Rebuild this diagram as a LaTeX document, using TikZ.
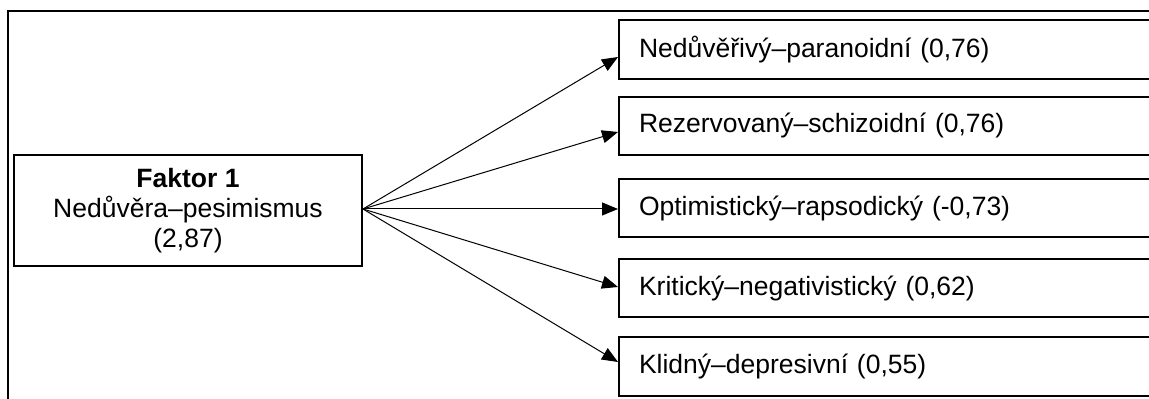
\documentclass[tikz,border=0pt]{standalone}
\usepackage{fontspec}
\setmainfont{Liberation Sans}
\usetikzlibrary{arrows.meta,positioning}
\tikzset{factorbox/.style={draw,line width=1pt,minimum width=174pt,minimum height=55.5pt,align=center,inner sep=0pt},
    itembox/.style={draw,line width=1pt,anchor=west,text width=280pt,inner xsep=10pt,minimum height=29.25pt,align=left},
    loadarrow/.style={line width=0.5pt,-{Triangle[length=8pt,width=6.5pt]}}}

\begin{document}
\begin{tikzpicture}[x=0.5pt,y=-0.5pt,font=\fontsize{13.25pt}{15pt}\selectfont]
                \clip (0,0) rectangle (1149,399);
                % outer frame
                \draw[line width=1pt] (8,420) -- (8,11) -- (1180,11);
                \node[factorbox] (faktor) at (188,210.5) {\textbf{Faktor 1}\\Nedůvěra–pesimismus\\(2,87)};
                \node[itembox] (f1) at (618,49.5) {Nedůvěřivý–paranoidní (0,76)};
                \node[itembox] (f2) at (618,126) {Rezervovaný–schizoidní (0,76)};
                \node[itembox] (f3) at (618,208) {Optimistický–rapsodický (-0,73)};
                \node[itembox] (f4) at (618,288) {Kritický–negativistický (0,62)};
                \node[itembox] (f5) at (618,366.5) {Klidný–depresivní (0,55)};
                \draw[loadarrow] ([yshift=0.75pt]faktor.east) -- ([yshift=-3.75pt]f1.west);
                \draw[loadarrow] ([yshift=0.75pt]faktor.east) -- ([yshift=-3pt]f2.west);
                \draw[loadarrow] ([yshift=0.75pt]faktor.east) -- ([yshift=-0.5pt]f3.west);
                \draw[loadarrow] ([yshift=0.75pt]faktor.east) -- ([yshift=0.5pt]f4.west);
                \draw[loadarrow] ([yshift=0.75pt]faktor.east) -- ([yshift=2.25pt]f5.west);
            \end{tikzpicture}
\end{document}
